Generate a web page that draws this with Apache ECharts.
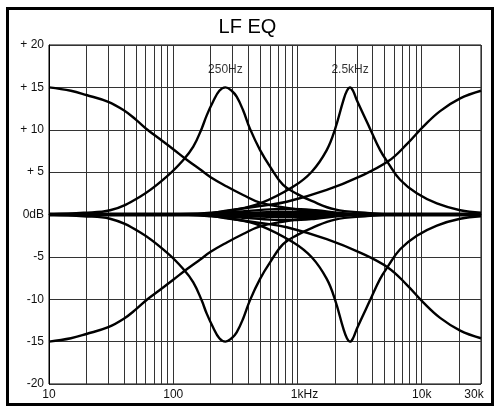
<!DOCTYPE html>
<html><head><meta charset="utf-8">
<script src="https://cdn.jsdelivr.net/npm/echarts@6/dist/echarts.min.js"></script>
<style>html,body{margin:0;padding:0;background:#fff}#c{width:495px;height:407px}</style>
</head><body><div id="c"></div>
<script>
// ---- data (frequency Hz, gain dB) ----
var TITLE = 'LF EQ';
var X_TICK_FREQS = [10, 100, 1000, 10000, 30000];
var X_TICK_LABELS = ['10', '100', '1kHz', '10k', '30k'];
var GRID_FREQS = [10,20,30,40,50,60,70,80,90,100,200,300,400,500,600,700,800,900,1000,
  2000,3000,4000,5000,6000,7000,8000,9000,10000,20000,30000];
var Y_TICKS = [-20,-15,-10,-5,0,5,10,15,20];
var Y_LABELS = ['-20','-15','-10','-5','0dB','+ 5','+ 10','+ 15','+ 20'];
var PEAK_LABELS = ['250Hz', '2.5kHz'];
var PEAK_LABEL_FREQS = [263, 2650];
var PEAK_LABEL_DB = [17.1, 17.1];

var FLAT = [[10,0],[30000,0]];
var LS_BOOST = [[10,15.0],[15,14.6],[20,14.1],[30,13.3],[40,12.3],[50,11.2],[62,10.0],[78,8.9],[100,7.7],[130,6.4],[165,5.3],[200,4.4],[270,3.3],[365,2.3],[500,1.4],[800,0.8],[1250,0.4],[2000,0.15],[3200,0],[30000,0]];
var LS_CUT = [[10,-15.0],[15,-14.6],[20,-14.1],[30,-13.3],[40,-12.3],[50,-11.2],[62,-10.0],[78,-8.9],[100,-7.7],[130,-6.4],[165,-5.3],[200,-4.4],[270,-3.3],[365,-2.3],[500,-1.4],[800,-0.8],[1250,-0.4],[2000,-0.15],[3200,0],[30000,0]];
var P1_BOOST = [[10,0],[19,0.2],[31,0.5],[54,2.1],[89,4.5],[120,6.4],[145,8.0],[169,10.1],[186,11.7],[209,13.3],[235,14.6],[263,15.0],[295,14.6],[324,13.9],[365,12.3],[415,10.1],[500,7.6],[605,5.6],[766,3.5],[1000,2.4],[1300,1.6],[2000,0.6],[3500,0.2],[6000,0],[30000,0]];
var P1_CUT = [[10,0],[19,-0.2],[31,-0.5],[54,-2.1],[89,-4.5],[120,-6.4],[145,-8.0],[169,-10.1],[186,-11.7],[209,-13.3],[235,-14.6],[263,-15.0],[295,-14.6],[324,-13.9],[365,-12.3],[415,-10.1],[500,-7.6],[605,-5.6],[766,-3.5],[1000,-2.4],[1300,-1.6],[2000,-0.6],[3500,-0.2],[6000,0],[30000,0]];
var P2_BOOST = [[10,0],[100,0],[200,0.2],[300,0.5],[500,1.3],[927,3.3],[1303,5.05],[1720,7.6],[2010,10.1],[2344,13.5],[2500,14.6],[2650,15.0],[2800,14.6],[3000,13.5],[3845,10.1],[4625,7.6],[5360,6.1],[6700,4.1],[9130,2.5],[13240,1.3],[20370,0.5],[30000,0.2]];
var P2_CUT = [[10,0],[100,0],[200,-0.2],[300,-0.5],[500,-1.3],[927,-3.3],[1303,-5.05],[1720,-7.6],[2010,-10.1],[2344,-13.5],[2500,-14.6],[2650,-15.0],[2800,-14.6],[3000,-13.5],[3845,-10.1],[4625,-7.6],[5360,-6.1],[6700,-4.1],[9130,-2.5],[13240,-1.3],[20370,-0.5],[30000,-0.2]];
var HS_BOOST = [[10,0],[150,0],[286,0.5],[500,1.0],[820,1.5],[1720,2.9],[3190,4.5],[5400,6.3],[7590,8.3],[10330,10.4],[14060,12.2],[20400,13.7],[30000,14.6]];
var HS_CUT = [[10,0],[150,0],[286,-0.5],[500,-1.0],[820,-1.5],[1720,-2.9],[3190,-4.5],[5400,-6.3],[7590,-8.3],[10330,-10.4],[14060,-12.2],[20400,-13.7],[30000,-14.6]];
var LENS_A_UP = [[200,0],[350,0.35],[600,0.6],[900,0.65],[1400,0.5],[2000,0.25],[2800,0]];
var LENS_A_DN = [[200,0],[350,-0.35],[600,-0.6],[900,-0.65],[1400,-0.5],[2000,-0.25],[2800,0]];
var LENS_B_UP = [[220,0],[400,0.2],[700,0.3],[1100,0.3],[1700,0.15],[2600,0]];
var LENS_B_DN = [[220,0],[400,-0.2],[700,-0.3],[1100,-0.3],[1700,-0.15],[2600,0]];

function lg(f){ return Math.log10(f); }
function toXY(arr){ return arr.map(function(p){ return [lg(p[0]), p[1]]; }); }

var FONT = '"Liberation Sans", Arial, sans-serif';
var curves = [LS_BOOST, LS_CUT, P1_BOOST, P1_CUT, P2_BOOST, P2_CUT, HS_BOOST, HS_CUT, LENS_A_UP, LENS_A_DN, LENS_B_UP, LENS_B_DN];
var series = [{
  type:'line', data: toXY(FLAT), showSymbol:false, silent:true,
  lineStyle:{color:'#000', width:4}, z:3
}];
curves.forEach(function(c){
  series.push({type:'line', data: toXY(c), showSymbol:false, silent:true,
    smooth:0.4, lineStyle:{color:'#000', width:2.4}, z:4});
});
series.push({
  type:'scatter', symbolSize:0, silent:true, z:5,
  data: PEAK_LABELS.map(function(t,i){ return {name:t, value:[lg(PEAK_LABEL_FREQS[i]), PEAK_LABEL_DB[i]]}; }),
  label:{show:true, position:'inside', formatter:'{b}', color:'#000', fontSize:12, fontFamily:FONT}
});

var chart = echarts.init(document.getElementById('c'), null, {renderer:'canvas'});
chart.setOption({
  animation:false,
  backgroundColor:'#fff',
  title:{text:TITLE, left:'center', top:12, textStyle:{fontSize:20, fontWeight:'normal', color:'#000', fontFamily:FONT}},
  grid:{left:49, right:14, top:45, bottom:23, show:true, borderColor:'#000', borderWidth:1},
  xAxis:{
    type:'value', min:1, max:lg(30000),
    axisLine:{show:true, lineStyle:{color:'#000', width:1}},
    axisTick:{show:false, customValues: GRID_FREQS.map(lg)},
    splitLine:{show:true, lineStyle:{color:'#333', width:1}},
    axisLabel:{
      customValues: X_TICK_FREQS.map(lg),
      color:'#111', fontSize:12, fontFamily:FONT, margin:5,
      formatter:function(v){
        var best=0, bd=1e9;
        X_TICK_FREQS.forEach(function(f,i){ var d=Math.abs(lg(f)-v); if(d<bd){bd=d;best=i;} });
        var t = X_TICK_LABELS[best];
        if (t==='1kHz') return '{r|'+t+'}';
        if (t==='30k') return '{l|'+t+'}';
        return t;
      },
      rich:{
        r:{fontSize:12, fontFamily:FONT, color:'#111', padding:[0,0,0,14]},
        l:{fontSize:12, fontFamily:FONT, color:'#111', padding:[0,14,0,0]}
      }
    }
  },
  yAxis:{
    type:'value', min:-20, max:20, interval:5,
    axisLine:{show:true, lineStyle:{color:'#000', width:1}},
    axisTick:{show:false},
    splitLine:{show:true, lineStyle:{color:'#333', width:1}},
    axisLabel:{color:'#111', fontSize:12, fontFamily:FONT, margin:5,
      formatter:function(v){ var i=Y_TICKS.indexOf(Math.round(v)); return i>=0?Y_LABELS[i]:''; }}
  },
  graphic:[{type:'rect', shape:{x:7.5, y:8.5, width:485, height:396}, style:{fill:'none', stroke:'#000', lineWidth:3}, silent:true}],
  series:series
});
</script></body></html>
